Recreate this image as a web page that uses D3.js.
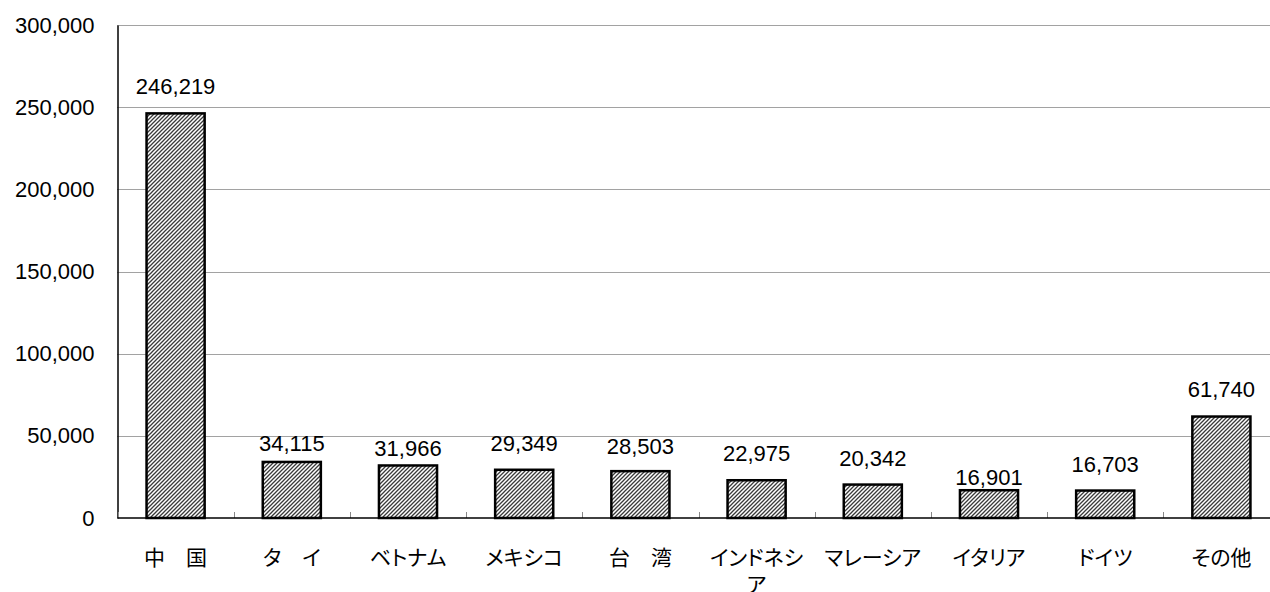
<!DOCTYPE html>
<html>
<head>
<meta charset="utf-8">
<script src="https://cdn.jsdelivr.net/npm/d3@7"></script>
<style>
  body { margin: 0; background: #fff; }
  .num { font-family: "Liberation Sans", Arial, sans-serif; font-size: 22px; fill: #000; }
  .cat { font-family: "Noto Sans CJK JP", sans-serif; font-size: 21px; fill: #000; font-feature-settings: "palt"; }
</style>
</head>
<body>
<svg id="chart" width="1270" height="592"></svg>
<script>
// data
var categories = ["中\u3000国", "タ\u3000イ", "ベトナム", "メキシコ", "台\u3000湾",
                  "インドネシア", "マレーシア", "イタリア", "ドイツ", "その他"];
var values = [246219, 34115, 31966, 29349, 28503, 22975, 20342, 16901, 16703, 61740];
var yTicks = [0, 50000, 100000, 150000, 200000, 250000, 300000];

// how far each value label sits above its bar (the original has them nudged by hand)
var labelGap = [19, 11, 9, 19, 17, 19, 19, 5, 19, 20];

var svg = d3.select("#chart"),
    plot = {left: 117.5, right: 1279.5, top: 25, bottom: 518};

var fmt = d3.format(",");

var x = d3.scaleBand()
    .domain(categories)
    .range([plot.left, plot.right])
    .paddingInner(0.5)
    .paddingOuter(0.25);

var y = d3.scaleLinear()
    .domain([0, 300000])
    .range([plot.bottom, plot.top]);

// hatch fill
var pat = svg.append("defs").append("pattern")
    .attr("id", "hatch")
    .attr("patternUnits", "userSpaceOnUse")
    .attr("width", 4)
    .attr("height", 4);
pat.append("rect").attr("width", 4).attr("height", 4).attr("fill", "#fff");
pat.append("path")
    .attr("d", "M-1,1 l2,-2 M0,4 l4,-4 M3,5 l2,-2")
    .attr("stroke", "#3a3a3a")
    .attr("stroke-width", 1.3);

// grid lines
svg.append("g")
  .selectAll("line")
  .data(yTicks.filter(function(d) { return d > 0; }))
  .enter().append("line")
    .attr("x1", plot.left)
    .attr("x2", 1270)
    .attr("y1", function(d) { return Math.round(y(d)) + 0.5; })
    .attr("y2", function(d) { return Math.round(y(d)) + 0.5; })
    .attr("stroke", "#444")
    .attr("stroke-width", 1)
    .attr("stroke-dasharray", "1,1");

// y axis
var yAxis = svg.append("g")
    .attr("class", "axis axis--y")
    .attr("transform", "translate(" + plot.left + ",0)")
    .call(d3.axisLeft(y).tickValues(yTicks).tickFormat(fmt).tickSize(0).tickPadding(23));
yAxis.attr("font-family", null).attr("font-size", null);
yAxis.select(".domain").attr("stroke", "#000").attr("stroke-width", 1.5);
yAxis.selectAll("text").attr("class", "num");

// category boundary ticks (inside, pointing up)
svg.append("g")
  .selectAll("line")
  .data(d3.range(categories.length + 1))
  .enter().append("line")
    .attr("x1", function(i) { return Math.round(plot.left + i * x.step()) + 0.5; })
    .attr("x2", function(i) { return Math.round(plot.left + i * x.step()) + 0.5; })
    .attr("y1", plot.bottom - 6)
    .attr("y2", plot.bottom)
    .attr("stroke", "#888")
    .attr("stroke-width", 1);

// bars
svg.append("g")
  .selectAll(".bar")
  .data(values)
  .enter().append("rect")
    .attr("class", "bar")
    .attr("x", function(d, i) { return x(categories[i]); })
    .attr("y", function(d) { return y(d); })
    .attr("width", x.bandwidth())
    .attr("height", function(d) { return plot.bottom - y(d); })
    .attr("fill", "url(#hatch)")
    .attr("stroke", "#000")
    .attr("stroke-width", 2.5);

// x axis line
svg.append("line")
    .attr("x1", plot.left)
    .attr("x2", 1270)
    .attr("y1", plot.bottom)
    .attr("y2", plot.bottom)
    .attr("stroke", "#000")
    .attr("stroke-width", 1.5);

// value labels
svg.append("g")
  .selectAll("text")
  .data(values)
  .enter().append("text")
    .attr("class", "num")
    .attr("text-anchor", "middle")
    .attr("x", function(d, i) { return x(categories[i]) + x.bandwidth() / 2; })
    .attr("y", function(d, i) { return y(d) - labelGap[i]; })
    .text(function(d) { return fmt(d); });

// category labels, long ones wrap after 5 characters
var xAxis = svg.append("g")
    .attr("transform", "translate(0," + plot.bottom + ")")
    .call(d3.axisBottom(x).tickSize(0).tickPadding(0));
xAxis.attr("font-family", null).attr("font-size", null);
xAxis.select(".domain").remove();
xAxis.selectAll("text").each(function(d) {
  var t = d3.select(this)
      .attr("class", "cat")
      .attr("y", 47)
      .attr("dy", null)
      .text(null);
  var lines = d.length > 5 ? [d.slice(0, 5), d.slice(5)] : [d];
  lines.forEach(function(s, k) {
    t.append("tspan").attr("x", 0).attr("dy", k === 0 ? 0 : 27).text(s);
  });
});
</script>
</body>
</html>
